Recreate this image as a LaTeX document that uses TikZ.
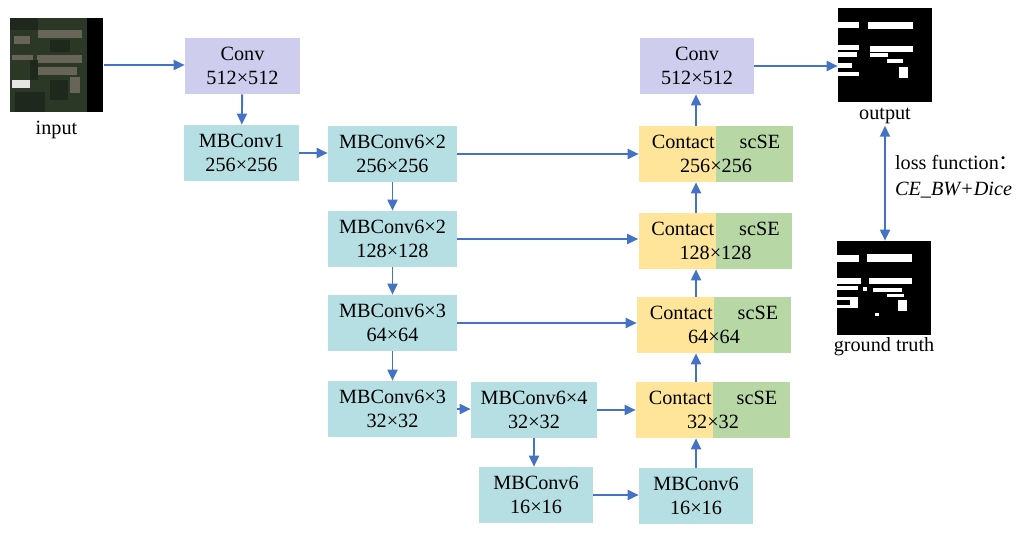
\documentclass[tikz,border=0pt]{standalone}
\usepackage{fontspec}
\setmainfont{Liberation Serif}
\newfontfamily\cjk{Noto Sans CJK SC}
\usetikzlibrary{positioning,arrows.meta}
\definecolor{convc}{RGB}{206,205,238}
\definecolor{mbc}{RGB}{182,223,227}
\definecolor{catc}{RGB}{255,229,153}
\definecolor{sec}{RGB}{183,215,165}
\definecolor{arrowc}{RGB}{68,114,196}
\definecolor{sat}{RGB}{44,56,38}
\definecolor{bldg}{RGB}{104,100,88}
\definecolor{treec}{RGB}{30,40,28}
\begin{document}
\begin{tikzpicture}[x=0.02cm,y=-0.02cm,
	>={Triangle[length=2.2mm,width=2mm]},
	flow/.style={->, draw=arrowc, line width=1.1pt},
	blk/.style={rectangle, inner sep=0pt, align=center, minimum height=1.12cm, font=\fontsize{11.5}{14}\selectfont},
	conv/.style={blk, fill=convc, minimum width=2.3cm},
	mb/.style={blk, fill=mbc, minimum width=2.3cm},
	cat/.style={blk, fill=catc, minimum width=3.08cm,
		path picture={\fill[sec] (path picture bounding box.north) rectangle (path picture bounding box.south east);}},
	img/.style={rectangle, inner sep=0pt, minimum size=1.88cm, fill=black},
	lbl/.style={font=\fontsize{11.5}{14}\selectfont, inner sep=1pt}]
	\useasboundingbox (0,0) rectangle (1024,533);

	% input image
	\node[img, fill=sat] (inimg) at (56.5,65) {};
	\foreach \xa/\ya/\xb/\yb in {38/30/82/38, 37/55/82/63, 35/67/77/75, 12/55/33/60, 70/77/80/93, 14/36/30/44}
		\fill[bldg] (\xa,\ya) rectangle (\xb,\yb);
	\foreach \xa/\ya/\xb/\yb in {10/18/38/30, 50/40/70/52, 15/92/45/112, 50/80/68/100, 30/60/38/80}
		\fill[treec] (\xa,\ya) rectangle (\xb,\yb);
	\fill[white!80!gray] (12,80) rectangle (30,88);
	\fill[black] (87,18) rectangle (103,112);
	\node[lbl, below=4pt of inimg] (inlbl) {input};

	% encoder
	\node[conv] (conv1) at (242.5,66) {Conv\\512×512};
	\node[mb] (mb1) at (241.5,153) {MBConv1\\256×256};
	\node[mb, minimum width=2.58cm] (e256) at (392.5,154) {MBConv6×2\\256×256};
	\node[mb, minimum width=2.58cm] (e128) at (392.5,239) {MBConv6×2\\128×128};
	\node[mb, minimum width=2.58cm] (e64) at (392.5,323) {MBConv6×3\\64×64};
	\node[mb, minimum width=2.58cm] (e32) at (392.5,409) {MBConv6×3\\32×32};
	\node[mb, minimum width=2.52cm] (e32b) at (534,410) {MBConv6×4\\32×32};
	\node[mb, minimum width=2.28cm] (b16) at (536,495) {MBConv6\\16×16};

	% decoder
	\node[mb, minimum width=2.28cm] (d16) at (696,496) {MBConv6\\16×16};
	\node[cat] (c32) at (713,410) {Contact\hspace{0.5cm}scSE\\32×32};
	\node[cat] (c64) at (714,325) {Contact\hspace{0.5cm}scSE\\64×64};
	\node[cat] (c128) at (715.5,241) {Contact\hspace{0.5cm}scSE\\128×128};
	\node[cat] (c256) at (716,154) {Contact\hspace{0.5cm}scSE\\256×256};
	\node[conv, minimum width=2.28cm] (conv2) at (697,66) {Conv\\512×512};

	% output and ground truth
	\node[img] (outimg) at (885,55) {};
	\foreach \xa/\ya/\xb/\yb in {838/22/859/28, 868/22/913/29, 838/45/859/50, 870/46/913/52, 838/52/857/57,
		870/53/888/57, 887/59/903/63, 838/63/852/68, 838/72/859/76, 899/67/908/78}
		\fill[white] (\xa,\ya) rectangle (\xb,\yb);
	\node[lbl, below=2pt of outimg] (outlbl) {output};
	\node[img] (gtimg) at (884,288) {};
	\foreach \xa/\ya/\xb/\yb in {837/255/859/262, 867/254/912/262, 837/278/861/284, 869/278/912/284, 863/287/867/291,
		873/288/902/292, 837/286/858/290, 887/294/904/297, 837/297/858/300, 850/297/858/308, 837/305/858/308,
		898/300/907/311, 875/313/879/316}
		\fill[white] (\xa,\ya) rectangle (\xb,\yb);
	\node[lbl, below=0pt of gtimg] (gtlbl) {ground truth};
	\node[lbl, anchor=west] (loss) at (893,162) {loss function{\cjk ：}};
	\node[lbl, anchor=west] (lossf) at (893,190) {\textit{CE\_BW+Dice}};

	% connections
	\draw[flow] (inimg.east) -- (inimg.east -| conv1.west);
	\draw[flow] (conv1) -- (mb1);
	\draw[flow] (mb1.east) -- (mb1.east -| e256.west);
	\draw[flow] (e256) -- (e128);
	\draw[flow] (e128) -- (e64);
	\draw[flow] (e64) -- (e32);
	\draw[flow] (e32.east) -- (e32.east -| e32b.west);
	\draw[flow] (e32b.south) -- (e32b.south |- b16.north);
	\draw[flow] (b16.east) -- (b16.east -| d16.west);
	\draw[flow] (d16.north) -- (d16.north |- c32.south);
	\draw[flow] (c32.north -| d16) -- (c64.south -| d16);
	\draw[flow] (c64.north -| d16) -- (c128.south -| d16);
	\draw[flow] (c128.north -| d16) -- (c256.south -| d16);
	\draw[flow] (c256.north -| d16) -- (conv2.south -| d16);
	\draw[flow] (e256.east) -- (e256.east -| c256.west);
	\draw[flow] (e128.east) -- (e128.east -| c128.west);
	\draw[flow] (e64.east) -- (e64.east -| c64.west);
	\draw[flow] (e32b.east) -- (e32b.east -| c32.west);
	\draw[flow] (conv2.east) -- (conv2.east -| outimg.west);
	\draw[flow, <->] (outlbl.south) -- (outlbl.south |- gtimg.north);
\end{tikzpicture}
\end{document}
